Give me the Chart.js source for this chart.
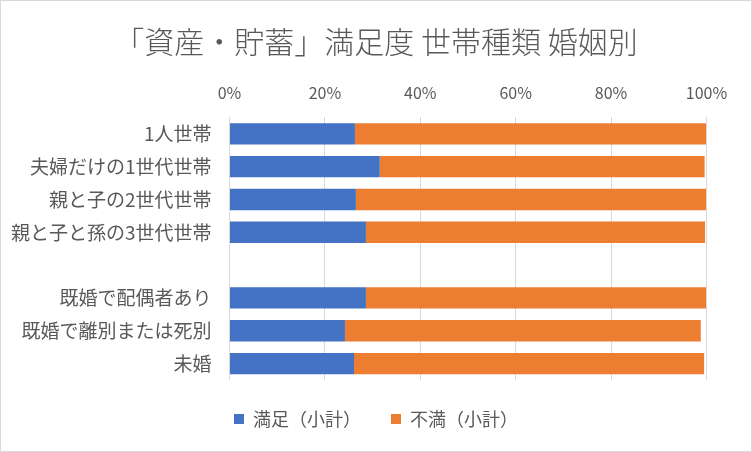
<!DOCTYPE html>
<html>
<head>
<meta charset="utf-8">
<script src="https://cdn.jsdelivr.net/npm/chart.js@4"></script>
<style>
html,body{margin:0;padding:0;background:#fff;}
#wrap{width:752px;height:452px;position:relative;}
</style>
</head>
<body>
<div id="wrap"><canvas id="c" width="752" height="452"></canvas></div>
<script>
const titleText = "「資産・貯蓄」満足度 世帯種類 婚姻別";
const categories = ["1人世帯", "夫婦だけの1世代世帯", "親と子の2世代世帯", "親と子と孫の3世代世帯", "", "既婚で配偶者あり", "既婚で離別または死別", "未婚"];
const seriesNames = ["満足（小計）", "不満（小計）"];
const satisfied = [26.3, 31.5, 26.5, 28.6, null, 28.6, 24.2, 26.1];
const dissatisfied = [73.6, 68.1, 73.4, 71.1, null, 71.3, 74.6, 73.4];
const tickValues = [0, 20, 40, 60, 80, 100];

const FONT = "'Noto Sans CJK JP', 'Noto Sans', sans-serif";
const TEXT = "#595959";

const framePlugin = {
  id: 'frame',
  beforeDraw(chart) {
    const ctx = chart.ctx;
    ctx.save();
    ctx.fillStyle = '#ffffff';
    ctx.fillRect(0, 0, chart.width, chart.height);
    ctx.restore();
  },
  afterDraw(chart) {
    const ctx = chart.ctx;
    ctx.save();
    ctx.strokeStyle = '#d9d9d9';
    ctx.lineWidth = 1;
    ctx.strokeRect(0.5, 0.5, chart.width - 1, chart.height - 1);
    ctx.restore();
  }
};

new Chart(document.getElementById('c'), {
  type: 'bar',
  data: {
    labels: categories,
    datasets: [
      { label: seriesNames[0], data: satisfied, backgroundColor: '#4472C4', borderWidth: 0, categoryPercentage: 1, barPercentage: 0.65 },
      { label: seriesNames[1], data: dissatisfied, backgroundColor: '#ED7D31', borderWidth: 0, categoryPercentage: 1, barPercentage: 0.65 }
    ]
  },
  options: {
    indexAxis: 'y',
    responsive: false,
    animation: false,
    layout: { padding: { left: 0, right: 0, top: 0, bottom: 14 } },
    scales: {
      x: {
        position: 'top',
        stacked: true,
        min: 0, max: 100,
        afterBuildTicks(axis) { axis.ticks = tickValues.map(v => ({ value: v })); },
        afterFit(axis) { axis.height = 57.4; },
        ticks: { color: TEXT, font: { family: FONT, size: 16 }, padding: 15, callback: v => v + '%' },
        grid: { color: '#d9d9d9', lineWidth: 1, drawTicks: false },
        border: { display: false }
      },
      y: {
        stacked: true,
        afterFit(axis) { axis.width = 229.5; },
        ticks: { color: TEXT, font: { family: FONT, size: 19 }, padding: 18 },
        grid: { display: false, drawTicks: false },
        border: { display: false }
      },
      yRight: {
        position: 'right',
        type: 'category',
        labels: categories,
        afterFit(axis) { axis.width = 45.5; },
        ticks: { display: false },
        grid: { display: false, drawTicks: false },
        border: { display: false }
      }
    },
    plugins: {
      title: {
        display: true,
        text: titleText,
        color: TEXT,
        font: { family: FONT, size: 30, weight: 300, lineHeight: 1.2 },
        padding: { top: 24, bottom: 0 }
      },
      legend: {
        position: 'bottom',
        labels: {
          color: TEXT,
          font: { family: FONT, size: 18 },
          boxWidth: 10, boxHeight: 10,
          padding: 30
        }
      },
      tooltip: { enabled: false }
    }
  },
  plugins: [framePlugin]
});
</script>
</body>
</html>
